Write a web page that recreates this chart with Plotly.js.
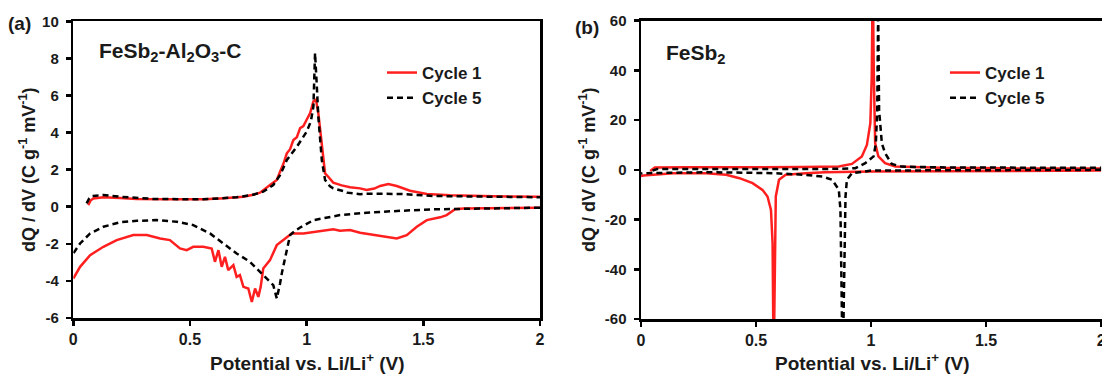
<!DOCTYPE html>
<html>
<head>
<meta charset="utf-8">
<script src="https://cdn.plot.ly/plotly-3.0.1.min.js"></script>
<style>
  html, body { margin: 0; padding: 0; background: #fff; }
  #chart { width: 1102px; height: 375px; }
</style>
</head>
<body>
<div id="chart"></div>
<script>
// ---- (a) FeSb2-Al2O3-C : dQ/dV vs potential ----
// Cycle 1, discharge branch (2 V -> 0 V)
const aC1DisV = [2.0, 1.8, 1.672, 1.636, 1.600, 1.572, 1.515, 1.472, 1.429, 1.386, 1.357, 1.300, 1.229, 1.186, 1.143, 1.114, 1.043, 0.986, 0.936, 0.900, 0.872, 0.843, 0.814, 0.803, 0.793, 0.779, 0.765, 0.750, 0.729, 0.714, 0.700, 0.686, 0.664, 0.650, 0.636, 0.622, 0.607, 0.593, 0.557, 0.514, 0.486, 0.457, 0.414, 0.372, 0.315, 0.257, 0.186, 0.129, 0.072, 0.029, 0.0];
const aC1DisQ = [-0.06, -0.07, -0.09, -0.14, -0.45, -0.57, -0.72, -1.08, -1.53, -1.71, -1.66, -1.53, -1.40, -1.26, -1.30, -1.22, -1.35, -1.44, -1.44, -1.80, -2.07, -2.88, -3.33, -4.32, -4.86, -4.41, -5.14, -4.41, -4.32, -3.69, -3.78, -3.15, -3.42, -2.70, -3.24, -2.34, -2.97, -2.25, -2.16, -2.16, -2.34, -2.25, -1.80, -1.71, -1.53, -1.53, -1.80, -2.16, -2.61, -3.24, -3.87];
// Cycle 1, charge branch (0.06 V -> 2 V)
const aC1ChgV = [0.064, 0.075, 0.086, 0.129, 0.2, 0.272, 0.4, 0.486, 0.557, 0.629, 0.7, 0.729, 0.771, 0.8, 0.843, 0.872, 0.886, 0.9, 0.915, 0.929, 0.943, 0.958, 0.972, 0.986, 1.0, 1.015, 1.029, 1.040, 1.05, 1.058, 1.065, 1.079, 1.086, 1.114, 1.15, 1.186, 1.229, 1.257, 1.29, 1.315, 1.35, 1.386, 1.443, 1.515, 1.615, 1.8, 2.0];
const aC1ChgQ = [0.09, 0.35, 0.45, 0.51, 0.47, 0.42, 0.40, 0.40, 0.40, 0.45, 0.50, 0.54, 0.65, 0.76, 1.17, 1.44, 1.89, 2.30, 2.88, 3.10, 3.60, 3.75, 4.24, 4.35, 4.69, 5.05, 5.68, 5.77, 5.05, 4.20, 3.24, 1.80, 1.71, 1.30, 1.15, 1.05, 0.99, 0.90, 0.98, 1.12, 1.23, 1.12, 0.86, 0.69, 0.62, 0.56, 0.54];
// Cycle 5, discharge branch
const aC5DisV = [2.0, 1.657, 1.543, 1.4, 1.257, 1.143, 1.05, 1.03, 0.972, 0.95, 0.929, 0.907, 0.895, 0.886, 0.872, 0.857, 0.814, 0.757, 0.700, 0.643, 0.586, 0.514, 0.443, 0.357, 0.272, 0.2, 0.129, 0.072, 0.029, 0.0];
const aC5DisQ = [-0.05, -0.09, -0.14, -0.22, -0.32, -0.45, -0.68, -0.72, -1.12, -1.30, -1.53, -2.70, -3.50, -4.14, -4.95, -4.23, -3.69, -2.97, -2.52, -1.98, -1.44, -0.99, -0.81, -0.72, -0.76, -0.84, -1.08, -1.44, -1.98, -2.52];
// Cycle 5, charge branch
const aC5ChgV = [0.057, 0.068, 0.079, 0.129, 0.2, 0.343, 0.557, 0.7, 0.771, 0.814, 0.857, 0.886, 0.915, 0.958, 1.0, 1.018, 1.029, 1.036, 1.043, 1.05, 1.065, 1.079, 1.1, 1.114, 1.157, 1.172, 1.229, 1.257, 1.4, 1.543, 2.0];
const aC5ChgQ = [0.18, 0.45, 0.58, 0.63, 0.54, 0.42, 0.40, 0.51, 0.65, 0.81, 1.17, 1.70, 2.52, 3.24, 4.05, 4.60, 5.41, 8.29, 6.67, 4.86, 2.52, 1.44, 1.10, 0.99, 0.85, 0.76, 0.68, 0.70, 0.69, 0.58, 0.51];

// ---- (b) FeSb2 : dQ/dV vs potential ----
const bC1DisV = [2.0, 1.5, 1.003, 0.8, 0.716, 0.629, 0.600, 0.586, 0.583, 0.579, 0.575, 0.572, 0.565, 0.550, 0.528, 0.485, 0.428, 0.37, 0.284, 0.14, 0.01, 0.0];
const bC1DisQ = [-0.3, -0.4, -0.67, -1.0, -1.34, -2.0, -4.0, -10.7, -29.5, -62, -62, -29.5, -16.1, -10.7, -8.04, -5.36, -3.35, -2.0, -1.34, -1.34, -2.3, -2.5];
const bC1ChgV = [0.04, 0.06, 0.2, 0.5, 0.7, 0.86, 0.917, 0.96, 0.982, 0.997, 1.003, 1.006, 1.009, 1.012, 1.018, 1.032, 1.061, 1.105, 1.3, 1.6, 2.0];
const bC1ChgQ = [-0.5, 0.9, 1.0, 1.0, 1.1, 1.34, 2.4, 5.4, 10.0, 18.8, 37.5, 65, 65, 38.9, 10.7, 5.4, 2.7, 1.34, 0.8, 0.6, 0.5];
const bC5DisV = [2.0, 1.5, 1.003, 0.917, 0.895, 0.889, 0.886, 0.880, 0.874, 0.871, 0.867, 0.860, 0.831, 0.788, 0.716, 0.572, 0.3, 0.01, 0.0];
const bC5DisQ = [0.0, -0.05, -0.27, -1.34, -4.0, -10.7, -29.5, -62, -62, -29.5, -16.1, -8.0, -4.0, -2.7, -2.0, -1.34, -0.94, -1.34, -1.5];
const bC5ChgV = [0.05, 0.07, 0.3, 0.6, 0.85, 0.932, 0.975, 1.011, 1.021, 1.027, 1.029, 1.031, 1.035, 1.047, 1.061, 1.090, 1.133, 1.3, 1.6, 2.0];
const bC5ChgQ = [-0.3, 0.3, 0.3, 0.3, 0.4, 0.67, 2.7, 5.4, 10.7, 24, 65, 65, 24, 10.7, 6.7, 2.4, 1.3, 1.0, 0.9, 0.8];

// Tick labels
const xTickVals = [0, 0.5, 1, 1.5, 2];
const xTickText = ['0', '0.5', '1', '1.5', '2'];
const aYTickVals = [-6, -4, -2, 0, 2, 4, 6, 8, 10];
const aYTickText = ['-6', '-4', '-2', '0', '2', '4', '6', '8', '10'];
const bYTickVals = [-60, -40, -20, 0, 20, 40, 60];
const bYTickText = ['-60', '-40', '-20', '0', '20', '40', '60'];

const seriesNames = ['Cycle 1', 'Cycle 5'];

// discharge and charge branches joined by a gap
function joinBranches(dx, dy, cx, cy) {
  return { x: dx.concat([null], cx), y: dy.concat([null], cy) };
}

const FONT = 'Liberation Sans, Arial, Helvetica, sans-serif';
const INK = '#1a1a1a';
const RED = '#ff1f1f';
const redLine = { color: RED, width: 2.5 };
const blackLine = { color: '#000000', width: 2.5, dash: '6px,4px' };

const a1 = joinBranches(aC1DisV, aC1DisQ, aC1ChgV, aC1ChgQ);
const a5 = joinBranches(aC5DisV, aC5DisQ, aC5ChgV, aC5ChgQ);
const b1 = joinBranches(bC1DisV, bC1DisQ, bC1ChgV, bC1ChgQ);
const b5 = joinBranches(bC5DisV, bC5DisQ, bC5ChgV, bC5ChgQ);

const traces = [
  { x: a1.x, y: a1.y, name: seriesNames[0], mode: 'lines', line: redLine,
    xaxis: 'x', yaxis: 'y', legend: 'legend', legendgroup: 'a1', connectgaps: false },
  { x: a5.x, y: a5.y, name: seriesNames[1], mode: 'lines', line: blackLine,
    xaxis: 'x', yaxis: 'y', legend: 'legend', legendgroup: 'a5', connectgaps: false },
  { x: b1.x, y: b1.y, name: seriesNames[0], mode: 'lines', line: redLine,
    xaxis: 'x2', yaxis: 'y2', legend: 'legend2', legendgroup: 'b1', connectgaps: false },
  { x: b5.x, y: b5.y, name: seriesNames[1], mode: 'lines', line: blackLine,
    xaxis: 'x2', yaxis: 'y2', legend: 'legend2', legendgroup: 'b5', connectgaps: false }
];

const W = 1102, H = 375;
const px = v => v / W;
const py = v => 1 - v / H;

const axisBase = {
  showline: true, linewidth: 2.5, linecolor: '#000', mirror: true,
  ticks: 'outside', ticklen: 5, tickwidth: 2.5, tickcolor: '#000',
  showgrid: false, zeroline: false, fixedrange: true,
  ticklabeloverflow: 'allow'
};

const xTickFont = { family: FONT, size: 16, color: INK, weight: 'bold' };
const yTickFont = { family: FONT, size: 15, color: INK, weight: 'bold' };
const legendFont = { family: FONT, size: 17, color: INK, weight: 'bold' };

const layout = {
  width: W, height: H,
  margin: { l: 0, r: 0, t: 0, b: 0 },
  paper_bgcolor: '#fff', plot_bgcolor: '#fff',
  font: { family: FONT, color: INK, weight: 'bold' },
  xaxis: Object.assign({}, axisBase, {
    domain: [px(73.3), px(540)], range: [0, 2], anchor: 'y',
    tickmode: 'array', tickvals: xTickVals, ticktext: xTickText,
    tickfont: xTickFont, ticklabelstandoff: 0
  }),
  yaxis: Object.assign({}, axisBase, {
    domain: [py(318), py(21.3)], range: [-6, 10], anchor: 'x',
    tickmode: 'array', tickvals: aYTickVals, ticktext: aYTickText,
    tickfont: yTickFont, ticklabelstandoff: 4
  }),
  xaxis2: Object.assign({}, axisBase, {
    domain: [px(641), 1], range: [0, 2.004], anchor: 'y2',
    tickmode: 'array', tickvals: xTickVals, ticktext: xTickText,
    tickfont: xTickFont, ticklabelstandoff: 0
  }),
  yaxis2: Object.assign({}, axisBase, {
    domain: [py(319), py(20.7)], range: [-60, 60], anchor: 'x2',
    tickmode: 'array', tickvals: bYTickVals, ticktext: bYTickText,
    tickfont: yTickFont, ticklabelstandoff: 4
  }),
  showlegend: true,
  legend: {
    x: px(382), y: py(55), xanchor: 'left', yanchor: 'top',
    bgcolor: 'rgba(0,0,0,0)', borderwidth: 0, font: legendFont,
    traceorder: 'grouped', tracegroupgap: 0, itemwidth: 30
  },
  legend2: {
    x: px(945), y: py(55), xanchor: 'left', yanchor: 'top',
    bgcolor: 'rgba(0,0,0,0)', borderwidth: 0, font: legendFont,
    traceorder: 'grouped', tracegroupgap: 0, itemwidth: 30
  },
  annotations: [
    { text: '(a)', xref: 'paper', yref: 'paper', x: px(19.5), y: py(23),
      xanchor: 'center', yanchor: 'middle', showarrow: false,
      font: { family: FONT, size: 19, color: INK, weight: 'bold' } },
    { text: '(b)', xref: 'paper', yref: 'paper', x: px(587), y: py(28),
      xanchor: 'center', yanchor: 'middle', showarrow: false,
      font: { family: FONT, size: 19, color: INK, weight: 'bold' } },
    { text: 'FeSb<sub>2</sub>-Al<sub>2</sub>O<sub>3</sub>-C', xref: 'paper', yref: 'paper',
      x: px(97), y: py(52), xanchor: 'left', yanchor: 'middle', showarrow: false,
      font: { family: FONT, size: 21, color: INK, weight: 'bold' } },
    { text: 'FeSb<sub>2</sub>', xref: 'paper', yref: 'paper',
      x: px(664), y: py(54), xanchor: 'left', yanchor: 'middle', showarrow: false,
      font: { family: FONT, size: 21, color: INK, weight: 'bold' } },
    { text: 'Potential vs. Li/Li<sup>+</sup> (V)', xref: 'paper', yref: 'paper',
      x: px(307), y: py(362), xanchor: 'center', yanchor: 'middle', showarrow: false,
      font: { family: FONT, size: 19, color: INK, weight: 'bold' } },
    { text: 'Potential vs. Li/Li<sup>+</sup> (V)', xref: 'paper', yref: 'paper',
      x: px(872), y: py(362), xanchor: 'center', yanchor: 'middle', showarrow: false,
      font: { family: FONT, size: 19, color: INK, weight: 'bold' } },
    { text: 'dQ / dV (C g<sup>-1</sup> mV<sup>-1</sup>)', xref: 'paper', yref: 'paper',
      x: px(27), y: py(170), xanchor: 'center', yanchor: 'middle', textangle: -90, showarrow: false,
      font: { family: FONT, size: 18, color: INK, weight: 'bold' } },
    { text: 'dQ / dV (C g<sup>-1</sup> mV<sup>-1</sup>)', xref: 'paper', yref: 'paper',
      x: px(587), y: py(170), xanchor: 'center', yanchor: 'middle', textangle: -90, showarrow: false,
      font: { family: FONT, size: 18, color: INK, weight: 'bold' } }
  ]
};

Plotly.newPlot('chart', traces, layout, { displayModeBar: false, staticPlot: true });
</script>
</body>
</html>
